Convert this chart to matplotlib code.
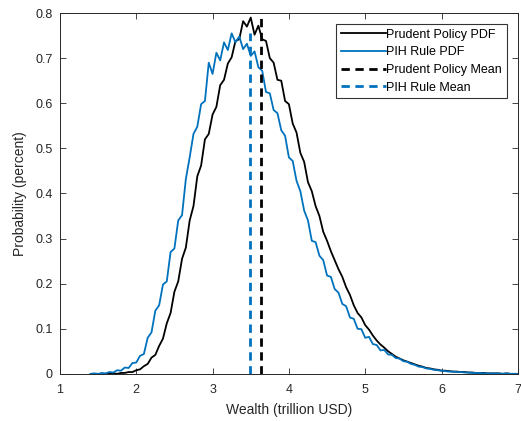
import numpy as np
import matplotlib
matplotlib.use("Agg")
import matplotlib.pyplot as plt

# ---- data ----
pih_start = 1.40
prudent_start = 1.60
bin_step = 0.05

pih_pdf = [
    0.000, 0.001, 0.000, 0.002, 0.001, 0.004, 0.003, 0.008, 0.007, 0.014,
    0.013, 0.024, 0.025, 0.040, 0.044, 0.080, 0.092, 0.140, 0.152, 0.198,
    0.205, 0.270, 0.278, 0.340, 0.352, 0.432, 0.480, 0.532, 0.548, 0.598,
    0.605, 0.690, 0.665, 0.712, 0.695, 0.735, 0.718, 0.755, 0.735, 0.748,
    0.720, 0.732, 0.705, 0.715, 0.680, 0.672, 0.625, 0.622, 0.585, 0.578,
    0.540, 0.528, 0.480, 0.472, 0.428, 0.405, 0.362, 0.340, 0.295, 0.292,
    0.262, 0.252, 0.218, 0.215, 0.188, 0.180, 0.155, 0.150, 0.125, 0.122,
    0.100, 0.099, 0.080, 0.082, 0.066, 0.064, 0.052, 0.053, 0.043, 0.042,
    0.035, 0.034, 0.028, 0.027, 0.022, 0.020, 0.016, 0.015, 0.012, 0.011,
    0.009, 0.008, 0.007, 0.006, 0.005, 0.005, 0.004, 0.004, 0.003, 0.003,
    0.002, 0.002, 0.002, 0.001, 0.001, 0.001, 0.001, 0.001, 0.000, 0.001,
    0.000, 0.000, 0.000,
]

prudent_pdf = [
    0.000, 0.000, 0.001, 0.000, 0.002, 0.002, 0.004, 0.004, 0.008, 0.010,
    0.017, 0.022, 0.036, 0.042, 0.062, 0.078, 0.112, 0.135, 0.182, 0.205,
    0.255, 0.280, 0.340, 0.372, 0.438, 0.462, 0.520, 0.532, 0.575, 0.592,
    0.640, 0.652, 0.688, 0.702, 0.738, 0.742, 0.782, 0.770, 0.790, 0.752,
    0.772, 0.742, 0.738, 0.700, 0.690, 0.652, 0.650, 0.605, 0.598, 0.555,
    0.535, 0.490, 0.470, 0.425, 0.405, 0.372, 0.350, 0.315, 0.295, 0.272,
    0.252, 0.232, 0.215, 0.192, 0.175, 0.152, 0.135, 0.125, 0.108, 0.098,
    0.085, 0.074, 0.065, 0.058, 0.050, 0.044, 0.038, 0.034, 0.030, 0.027,
    0.024, 0.021, 0.018, 0.016, 0.013, 0.012, 0.010, 0.009, 0.007, 0.007,
    0.006, 0.005, 0.005, 0.004, 0.004, 0.003, 0.003, 0.002, 0.002, 0.002,
    0.001, 0.001, 0.001, 0.001, 0.000, 0.001, 0.000, 0.000, 0.000,
]

prudent_mean = 3.64
pih_mean = 3.49

x_ticks = [1, 2, 3, 4, 5, 6, 7]
y_ticks = [0, 0.1, 0.2, 0.3, 0.4, 0.5, 0.6, 0.7, 0.8]
y_tick_labels = ['0', '0.1', '0.2', '0.3', '0.4', '0.5', '0.6', '0.7', '0.8']
series_labels = ["Prudent Policy PDF", "PIH Rule PDF", "Prudent Policy Mean", "PIH Rule Mean"]

# ---- plot ----
plt.rcParams['font.family'] = ['Liberation Sans', 'DejaVu Sans']
black = '#000000'
blue = '#0072BD'
grey = '#262626'

pih_x = pih_start + bin_step * np.arange(len(pih_pdf))
prudent_x = prudent_start + bin_step * np.arange(len(prudent_pdf))

fig = plt.figure(figsize=(5.21, 4.21), dpi=100)
ax = fig.add_axes([0.115, 0.112, 0.879, 0.857])

ax.plot(prudent_x, prudent_pdf, color=black, lw=1.3, label=series_labels[0])
ax.plot(pih_x, pih_pdf, color=blue, lw=1.3, label=series_labels[1])
ax.plot([prudent_mean, prudent_mean], [0, max(prudent_pdf)], color=black, lw=2,
        ls=(0, (3, 2)), label=series_labels[2])
ax.plot([pih_mean, pih_mean], [0, max(pih_pdf)], color=blue, lw=2,
        ls=(0, (3, 2)), label=series_labels[3])

ax.set_xlim(1, 7)
ax.set_ylim(0, 0.8)
ax.set_xticks(x_ticks)
ax.set_yticks(y_ticks)
ax.set_yticklabels(y_tick_labels)
ax.tick_params(direction='in', top=True, right=True, labelsize=9, colors=grey,
               length=4, width=0.6)
ax.tick_params(axis='x', pad=7)
ax.tick_params(axis='y', pad=5)
for s in ax.spines.values():
    s.set_color(grey)
    s.set_linewidth(0.7)
ax.set_xlabel('Wealth (trillion USD)', fontsize=10, color=grey, labelpad=5)
ax.set_ylabel('Probability (percent)', fontsize=10, color=grey, labelpad=6)

leg = ax.legend(loc='upper right', fontsize=9, frameon=True, fancybox=False,
                edgecolor='black', handlelength=3.6, handletextpad=0.05,
                borderpad=0.35, labelspacing=0.45, borderaxespad=0.9)
leg.get_frame().set_linewidth(0.8)

fig.savefig('out.png', dpi=100)
